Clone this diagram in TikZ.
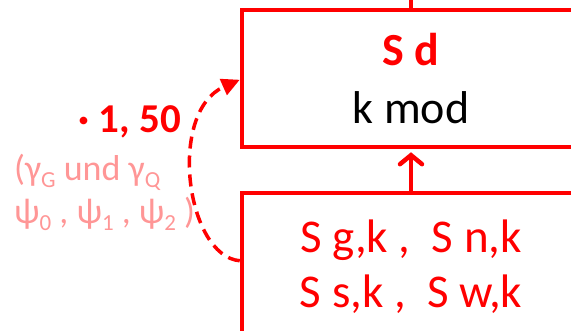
\documentclass[tikz,border=0pt]{standalone}
\usepackage{fontspec}
\setmainfont{Carlito}
\usetikzlibrary{arrows.meta}
\definecolor{rd}{RGB}{255,0,0}
\definecolor{pk}{RGB}{255,150,150}
\tikzset{
  box/.style={draw=rd, line width=4.5pt, rectangle, inner sep=0pt},
  conn/.style={draw=rd, line width=4.5pt},
  lbl/.style={inner sep=0pt, anchor=base},
}
\newcommand{\sbs}[1]{\raisebox{-0.45ex}{\fontsize{23}{24}\selectfont #1}}
\begin{document}
\begin{tikzpicture}[x=1pt,y=-1pt]
\useasboundingbox (0,0) rectangle (571,330);
\clip (0,0) rectangle (571,330);
% boxes
\node[box, minimum width=338pt, minimum height=137pt] (top) at (411,78.5) {};
\node[box, minimum width=338pt, minimum height=187pt] (bot) at (411,286.5) {};
\coordinate (topend) at (411,-5);
\draw[conn] (top.north) -- (topend);
% texts in boxes
\node[lbl, text=rd, font=\fontsize{46}{50}\selectfont\bfseries] (sd) at (411,65) {S d};
\node[lbl, font=\fontsize{46}{50}\selectfont] (kmod) at (411,123) {k mod};
\node[lbl, text=rd, font=\fontsize{47}{50}\selectfont] (l1) at (411,252) {S g,k ,\ \ S n,k};
\node[lbl, text=rd, font=\fontsize{47}{50}\selectfont] (l2) at (411,307) {S s,k ,\ \ S w,k};
% arrow between boxes
\draw[conn, line cap=round, -{Straight Barb[length=9pt,width=22pt,line cap=round]}, shorten >=3pt] (bot.north) -- (top.south);
% dashed curved arrow
\draw[draw=rd, line width=3.5pt, dash pattern=on 12pt off 7pt, -{Triangle[length=18pt,width=17pt]}]
  ([yshift=-70pt]bot.north west) .. controls (186,256) and (167,112) .. ([yshift=-72pt]top.north west);
% left texts
\node[lbl, anchor=base east, text=rd, font=\fontsize{41}{44}\selectfont\bfseries] (fac) at (181,132) {· 1, 50};
\node[lbl, anchor=base west, text=pk, font=\fontsize{36}{38}\selectfont] (g1) at (14,180) {(γ\sbs{G} und γ\sbs{Q}};
\node[lbl, anchor=base west, text=pk, font=\fontsize{36}{38}\selectfont] (g2) at (14,223) {ψ\sbs{0} , ψ\sbs{1} , ψ\sbs{2} )};
\end{tikzpicture}
\end{document}
